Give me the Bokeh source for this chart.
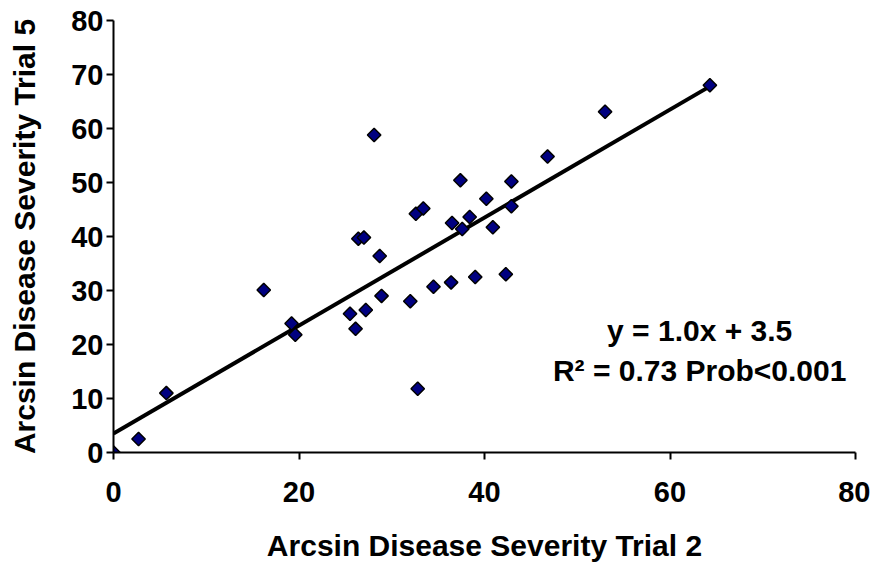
import numpy as np
from bokeh.plotting import figure
from bokeh.models import FixedTicker, Label, ColumnDataSource, Range1d
from bokeh.embed import file_html
from bokeh.resources import INLINE

# Data
trial2 = [0.0, 2.7, 5.7, 16.2, 19.2, 19.6, 25.5, 26.1, 27.2, 28.7, 28.9, 32.0,
          32.8, 34.5, 36.4, 39.0, 42.3, 28.1, 64.3, 53.0, 46.8, 37.4, 42.9,
          40.2, 42.9, 32.6, 33.4, 36.5, 38.4, 37.6, 40.9, 26.4, 27.0]
trial5 = [0.0, 2.5, 11.0, 30.1, 23.9, 21.8, 25.7, 22.9, 26.4, 36.4, 29.0, 28.0,
          11.8, 30.7, 31.5, 32.5, 33.0, 58.8, 68.0, 63.1, 54.8, 50.4, 50.2,
          47.0, 45.6, 44.2, 45.2, 42.5, 43.6, 41.4, 41.7, 39.6, 39.8]

slope = 1.0
intercept = 3.5
x_ticks = [0, 20, 40, 60, 80]
y_ticks = [0, 10, 20, 30, 40, 50, 60, 70, 80]
eq_text = "y = 1.0x + 3.5"
r2_text = "R\u00b2 = 0.73 Prob<0.001"
x_label = "Arcsin Disease Severity Trial 2"
y_label = "Arcsin Disease Severity Trial 5"

FONT = "Liberation Sans"

p = figure(width=870, height=567, output_backend="svg", toolbar_location=None,
           x_range=Range1d(0, 80), y_range=Range1d(0, 80),
           min_border_left=113, min_border_right=15,
           min_border_top=20, min_border_bottom=115)
p.outline_line_color = None
p.xgrid.visible = False
p.ygrid.visible = False
p.background_fill_color = "white"
p.border_fill_color = "white"

# Trend line
xs = [0.0, max(trial2)]
ys = [slope * v + intercept for v in xs]
p.line(xs, ys, line_color="black", line_width=4)

src = ColumnDataSource(dict(x=trial2, y=trial5))
p.scatter("x", "y", source=src, marker="square", size=9.5, angle=np.pi / 4,
          fill_color="#000080", line_color="black", line_width=1.5)

for ax, ticks in ((p.xaxis, x_ticks), (p.yaxis, y_ticks)):
    ax.ticker = FixedTicker(ticks=ticks)
    ax.minor_tick_line_color = None
    ax.major_tick_in = 0
    ax.major_tick_out = 7
    ax.axis_line_width = 2
    ax.major_tick_line_width = 2
    ax.axis_line_color = "black"
    ax.major_tick_line_color = "black"
    ax.major_label_text_font = FONT
    ax.major_label_text_font_style = "bold"
    ax.major_label_text_font_size = "29px"
    ax.major_label_text_color = "black"
    ax.axis_label_text_font = FONT
    ax.axis_label_text_font_style = "bold"
    ax.axis_label_text_font_size = "30px"
    ax.axis_label_text_color = "black"

p.xaxis.axis_label = x_label
p.yaxis.axis_label = y_label
p.xaxis.major_label_standoff = 22
p.yaxis.major_label_standoff = 3
p.xaxis.axis_label_standoff = 24
p.yaxis.axis_label_standoff = 27

p.add_layout(Label(x=63.2, y=22.6, text=eq_text, text_align="center",
                   text_baseline="alphabetic", text_font=FONT,
                   text_font_style="bold", text_font_size="30px",
                   text_color="black"))
p.add_layout(Label(x=63.2, y=15.2, text=r2_text, text_align="center",
                   text_baseline="alphabetic", text_font=FONT,
                   text_font_style="bold", text_font_size="30px",
                   text_color="black"))

open("out.html", "w").write(file_html(p, INLINE))
